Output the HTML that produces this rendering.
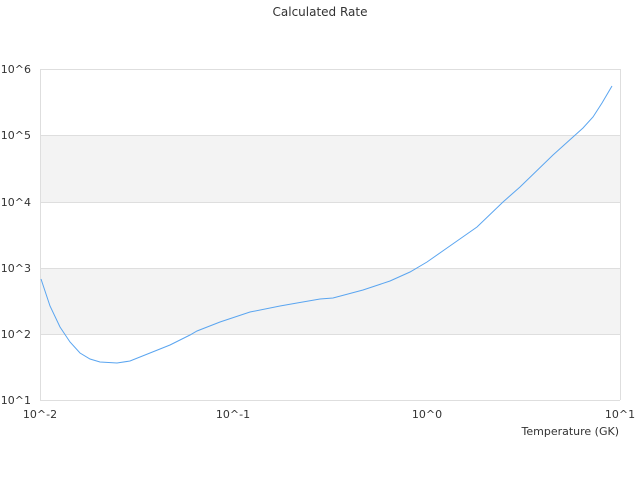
<!DOCTYPE html>
<html><head><meta charset="utf-8"><style>
html,body{margin:0;padding:0;background:#fff;}
svg{display:block;font-family:"DejaVu Sans","Liberation Sans",sans-serif;}
</style></head><body>
<svg width="640" height="480" viewBox="0 0 640 480">
<rect x="0" y="0" width="640" height="480" fill="#fff"/>
<rect x="40" y="135.3" width="580" height="67" fill="#f3f3f3"/>
<rect x="40" y="268.3" width="580" height="66" fill="#f3f3f3"/>
<g stroke="#dedede" stroke-width="1">
<line x1="40" y1="69.5" x2="620" y2="69.5"/>
<line x1="40" y1="135.5" x2="620" y2="135.5"/>
<line x1="40" y1="202.5" x2="620" y2="202.5"/>
<line x1="40" y1="268.5" x2="620" y2="268.5"/>
<line x1="40" y1="334.5" x2="620" y2="334.5"/>
<line x1="40" y1="400.5" x2="620" y2="400.5"/>
<line x1="40.5" y1="69" x2="40.5" y2="400"/>
<line x1="620.5" y1="69" x2="620.5" y2="400"/>
</g>
<polyline fill="none" stroke="#5aa5f0" stroke-width="1" points="41,279 50,306 60,327 70,342 80,353 90,359 100,362 117,363 130,361 150,353 170,345 190,335 197,331 220,322 250,312 280,306 297,303 320,299 333,298 363,290 390,281 410,272 427,262 447,248 477,227 503,202 520,187 553,155 583,128 593,117 602,103 612,86"/>
<g fill="#333" font-size="11">
<text x="320" y="16" text-anchor="middle" font-size="12">Calculated Rate</text>
<text x="31" y="73" text-anchor="end">10^6</text>
<text x="31" y="139" text-anchor="end">10^5</text>
<text x="31" y="206" text-anchor="end">10^4</text>
<text x="31" y="272" text-anchor="end">10^3</text>
<text x="31" y="338" text-anchor="end">10^2</text>
<text x="31" y="404" text-anchor="end">10^1</text>
<text x="40" y="418" text-anchor="middle">10^-2</text>
<text x="233" y="418" text-anchor="middle">10^-1</text>
<text x="427" y="418" text-anchor="middle">10^0</text>
<text x="620" y="418" text-anchor="middle">10^1</text>
<text x="619" y="435" text-anchor="end">Temperature (GK)</text>
</g>
</svg>
</body></html>
